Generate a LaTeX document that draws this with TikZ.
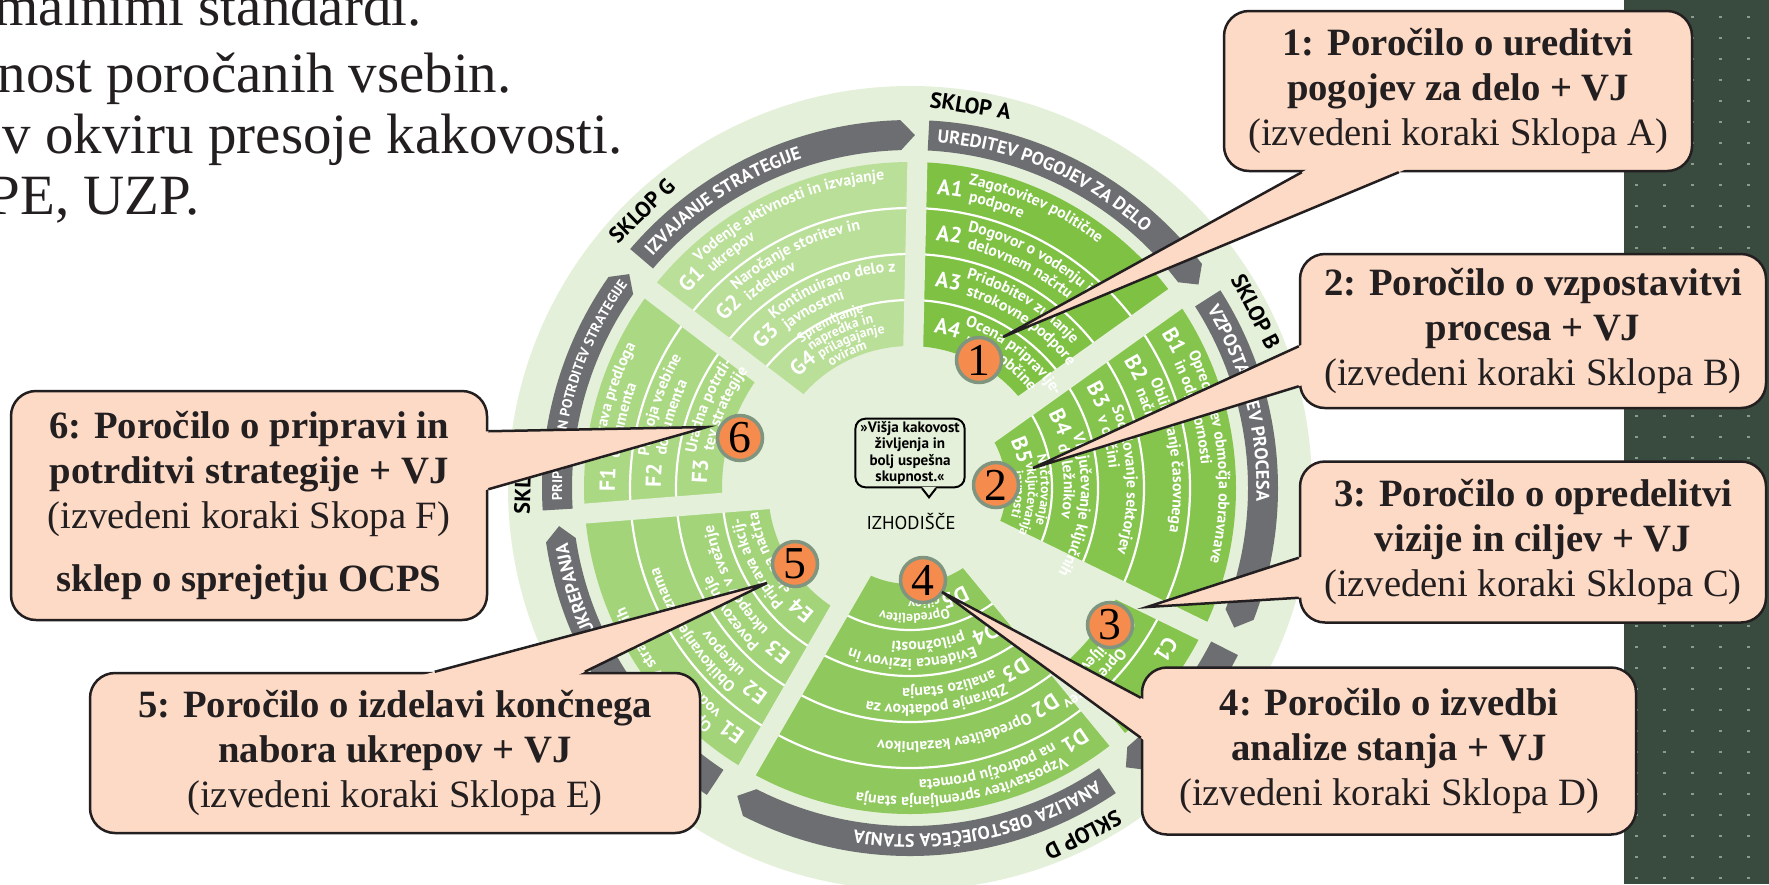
\documentclass[tikz,border=0pt]{standalone}
\usepackage{fontspec}
\setmainfont{Liberation Serif}
\setsansfont{PT Sans}
\usetikzlibrary{calc,decorations.text}

\definecolor{disc}{HTML}{E4F0D9}
\definecolor{secA}{HTML}{7EC143}
\definecolor{secB}{HTML}{85C54D}
\definecolor{secC}{HTML}{85C54D}
\definecolor{secD}{HTML}{8FC85C}
\definecolor{secE}{HTML}{A3D479}
\definecolor{secF}{HTML}{ABD883}
\definecolor{secG}{HTML}{BADF98}
\definecolor{bandgray}{HTML}{6D6E71}
\definecolor{peach}{HTML}{FDDAC6}
\definecolor{inkline}{HTML}{231F20}
\definecolor{dotorange}{HTML}{F58B4C}
\definecolor{dotring}{HTML}{7F957F}
\definecolor{panel}{HTML}{394A3E}
\definecolor{paneldot}{HTML}{8D9A90}

\newcommand{\lblfont}{\color{white}\sffamily\bfseries\fontsize{6.2}{7}\selectfont}
\newcommand{\rowfont}{\color{white}\sffamily\bfseries\fontsize{4.5}{5}\selectfont}
\newcommand{\rowfontS}{\color{white}\sffamily\bfseries\fontsize{3.9}{4.5}\selectfont}
\newcommand{\bandfont}{\color{white}\sffamily\bfseries\fontsize{5.2}{6}\selectfont}
\newcommand{\bandfontF}{\color{white}\sffamily\bfseries\fontsize{4}{5}\selectfont}

% text on a clockwise arc round the wheel centre
\newcommand{\arctext}[4]{%
  \path[decorate,decoration={text along path,text align=left,text={|#1|#4}}]
    (#2:#3) arc[start angle=#2,end angle=#2-100,radius=#3];}
% green wedge: colour, start angle, end angle, inner radius
\newcommand{\greensector}[4]{%
  \fill[#1] (#2:#4) arc[start angle=#2,end angle=#3,radius=#4]
    -- (#3:326) arc[start angle=#3,end angle=#2,radius=326] -- cycle;}
% grey arrow band: flat start, pointed end
\newcommand{\bandarrow}[2]{%
  \fill[band] (#1:338) arc[start angle=#1,end angle=#2,radius=338]
    -- ({#2-2.3}:353) -- (#2:368) arc[start angle=#2,end angle=#1,radius=368] -- cycle;}
\newcommand{\rowlabel}[3]{%
  \pgfmathsetmacro{\lrad}{#2+15}%
  \pgfmathsetmacro{\lang}{#1-20/\lrad*57.3}%
  \arctext{\lblfont}{\lang}{\lrad}{#3}}
\newcommand{\rowline}[4][52]{%
  \pgfmathsetmacro{\dang}{#2-#1/#3*57.3}%
  \arctext{\rowfont}{\dang}{#3}{#4}}
\newcommand{\rowlineS}[4][50]{%
  \pgfmathsetmacro{\dang}{#2-#1/#3*57.3}%
  \arctext{\rowfontS}{\dang}{#3}{#4}}
\newcommand{\calltail}[3]{%
  \fill[peach] ($(#2)!1.04!(#1)$) -- (#2) -- ($(#2)!1.04!(#3)$) -- cycle;
  \draw[tailline] (#1) -- (#2) -- (#3);}

\tikzset{
  band/.style={fill=bandgray},
  sepline/.style={draw=white,line width=0.22mm},
  gapstrip/.style={draw=disc,line width=2mm},
  sklop/.style={font=\sffamily\bfseries\fontsize{6.3}{7}\selectfont,text=black,inner sep=0pt},
  numdot/.style={circle,fill=dotorange,draw=dotring,line width=0.35mm,minimum size=4.5mm,inner sep=0pt,font=\fontsize{13}{13}\selectfont},
  quotebox/.style={draw=black,line width=0.2mm,fill=disc,rounded corners=1mm,align=center,inner xsep=0.5mm,inner ysep=0.3mm,minimum width=10.7mm,minimum height=6.8mm,font=\sffamily\bfseries\fontsize{4.3}{4.6}\selectfont},
  callout/.style={draw=inkline,line width=0.25mm,fill=peach,rounded corners=2.5mm,align=center,inner sep=0pt,text=inkline,font=\fontsize{11}{12.8}\selectfont},
  tailline/.style={draw=inkline,line width=0.25mm},
  headline/.style={font=\fontsize{16.2}{18}\selectfont,text=inkline,inner sep=0pt},
}

\begin{document}
\begin{tikzpicture}[x=0.1mm,y=0.1mm]
\useasboundingbox (0,0) rectangle (1769,884);
\clip (0,0) rectangle (1769,884);
\fill[white] (0,0) rectangle (1769,884);
%dark panel on the right
\fill[panel] (1624,0) rectangle (1769,884);
\foreach \x in {1636,1664,...,1748}
  \foreach \y in {6,27,...,884}
    \fill[paneldot] (\x-1.5,\y-0.8) rectangle ++(3,1.6);

%wheel
\begin{scope}[shift={(910,396)}]
\fill[disc] (0,0) circle[radius=402];
%sectors A..G
\greensector{secA}{88.7}{35.5}{142}
\greensector{secB}{35.5}{-26}{96}
\greensector{secC}{-26}{-50.5}{234}
\greensector{secD}{-50.5}{-120}{96}
\greensector{secE}{-120}{-175.5}{142}
\greensector{secF}{-175.5}{-217.3}{188}
\greensector{secG}{142.7}{88.7}{142}
%row lines
\foreach \r in {280,234,188} \draw[sepline] (88.7:\r) arc[start angle=88.7,end angle=35.5,radius=\r];
\foreach \r in {280,234,188,142} \draw[sepline] (35.5:\r) arc[start angle=35.5,end angle=-26,radius=\r];
\draw[sepline] (-26:280) arc[start angle=-26,end angle=-50.5,radius=280];
\foreach \r in {280,234,188,142} \draw[sepline] (-50.5:\r) arc[start angle=-50.5,end angle=-120,radius=\r];
\foreach \r in {280,234,188} \draw[sepline] (-120:\r) arc[start angle=-120,end angle=-175.5,radius=\r];
\foreach \r in {280,234} \draw[sepline] (-175.5:\r) arc[start angle=-175.5,end angle=-217.3,radius=\r];
\foreach \r in {280,234,188} \draw[sepline] (142.7:\r) arc[start angle=142.7,end angle=88.7,radius=\r];
%gaps between sectors
\foreach \g in {88.7,-26,-50.5,-120,-175.5,142.7} \draw[gapstrip] (0,0) -- (\g:334);
\draw[gapstrip,line width=2.4mm] (0,0) -- (35.5:334);

%A
\rowlabel{88.7}{280}{A1} \rowline{88.7}{309}{Zagotovitev politične} \rowline{88.7}{292}{podpore}
\rowlabel{88.7}{234}{A2} \rowline{88.7}{263}{Dogovor o vodenju in} \rowline{88.7}{246}{delovnem načrtu}
\rowlabel{88.7}{188}{A3} \rowline{88.7}{217}{Pridobitev zunanje} \rowline{88.7}{200}{strokovne podpore}
\rowlabel{88.7}{142}{A4} \rowline{88.7}{171}{Ocena pripravlje-} \rowline{88.7}{154}{nosti občine}
%B
\rowlabel{35.5}{280}{B1} \rowline{35.5}{309}{Opredelitev območja obravnave} \rowline{35.5}{292}{in odgovornosti}
\rowlabel{35.5}{234}{B2} \rowline{35.5}{263}{Oblikovanje časovnega} \rowline{35.5}{246}{načrta}
\rowlabel{35.5}{188}{B3} \rowline{35.5}{217}{Sodelovanje sektorjev} \rowline{35.5}{200}{v občini}
\rowlabel{35.5}{142}{B4} \rowline{35.5}{171}{Vključevanje ključnih} \rowline{35.5}{154}{deležnikov}
\rowlabel{35.5}{96}{B5} \rowlineS[48]{35.5}{131}{Načrtovanje} \rowlineS[48]{35.5}{118}{vključevanja} \rowlineS[48]{35.5}{105}{javnosti}
%C
\rowlabel{-26}{280}{C1}
\rowlabel{-26}{234}{C2} \rowline{-26}{263}{Opredelitev} \rowline{-26}{246}{ciljev}
%D
\rowlabel{-50.5}{280}{D1} \rowline{-50.5}{309}{Vzpostavitev spremljanja stanja} \rowline{-50.5}{292}{na področju prometa}
\rowlabel{-50.5}{234}{D2} \rowline{-50.5}{254}{Opredelitev kazalnikov}
\rowlabel{-50.5}{188}{D3} \rowline{-50.5}{217}{Zbiranje podatkov za} \rowline{-50.5}{200}{analizo stanja}
\rowlabel{-50.5}{142}{D4} \rowline{-50.5}{171}{Evidenca izzivov in} \rowline{-50.5}{154}{priložnosti}
\rowlabel{-50.5}{96}{D5} \rowlineS[48]{-50.5}{126}{Opredelitev} \rowlineS[48]{-50.5}{112}{ciljev}
%E
\rowlabel{-120}{280}{E1} \rowline{-120}{309}{Opredelitev strateških} \rowline{-120}{292}{vodil}
\rowlabel{-120}{234}{E2} \rowline{-120}{263}{Oblikovanje seznama} \rowline{-120}{246}{ukrepov}
\rowlabel{-120}{188}{E3} \rowline{-120}{217}{Povezovanje} \rowline{-120}{200}{ukrepov v svežnje}
\rowlabel{-120}{142}{E4} \rowline{-120}{171}{Priprava akcij-} \rowline{-120}{154}{skega načrta}
%F
\rowlabel{-175.5}{280}{F1} \rowline{-175.5}{309}{Priprava predloga} \rowline{-175.5}{292}{dokumenta}
\rowlabel{-175.5}{234}{F2} \rowline{-175.5}{263}{Presoja vsebine} \rowline{-175.5}{246}{dokumenta}
\rowlabel{-175.5}{188}{F3} \rowline{-175.5}{217}{Uradna potrdi-} \rowline{-175.5}{200}{tev strategije}
%G
\rowlabel{142.7}{280}{G1} \rowline{142.7}{309}{Vodenje aktivnosti in izvajanje} \rowline{142.7}{292}{ukrepov}
\rowlabel{142.7}{234}{G2} \rowline{142.7}{263}{Naročanje storitev in} \rowline{142.7}{246}{izdelkov}
\rowlabel{142.7}{188}{G3} \rowline{142.7}{217}{Kontinuirano delo z} \rowline{142.7}{200}{javnostmi}
\rowlabel{142.7}{142}{G4} \rowlineS{142.7}{181}{Spremljanje} \rowlineS{142.7}{169}{napredka in} \rowlineS{142.7}{157}{prilagajanje} \rowlineS{142.7}{145}{oviram}

%grey bands
\bandarrow{139.5}{91.5}
\bandarrow{87}{37.5}
\bandarrow{32.5}{-21}
\bandarrow{-27}{-50}
\bandarrow{-56}{-117}
\bandarrow{-123.5}{-171.5}
\bandarrow{-176.5}{-215}
\arctext{\bandfont}{85.5}{346.5}{UREDITEV POGOJEV ZA DELO}
\arctext{\bandfont}{31}{346.5}{VZPOSTAVITEV PROCESA}
\arctext{\bandfont}{-57.5}{346.5}{ANALIZA OBSTOJEČEGA STANJA}
\arctext{\bandfontF}{-178}{348}{PRIPRAVA IN POTRDITEV STRATEGIJE}
\arctext{\bandfont}{138}{346.5}{IZVAJANJE STRATEGIJE}
\path[decorate,decoration={text along path,text align=right,text={|\bandfont|UKREPANJA}}]
  (-123.5:346.5) arc[start angle=-123.5,end angle=-171,radius=346.5];

%sklop labels
\node[sklop,rotate=-9] (skA) at (81:387) {SKLOP A};
\node[sklop,rotate=-63] (skB) at (27:388) {SKLOP B};
\node[sklop,rotate=-153.5] (skD) at (-63.5:388) {SKLOP D};
\node[sklop,rotate=88] (skF) at (178:387) {SKLOP F};
\node[sklop,rotate=44] (skG) at (134:386) {SKLOP G};
\end{scope}

%centre
\node[quotebox] (quote) at (910,431) {»Višja kakovost\\življenja in\\bolj uspešna\\skupnost.«};
\fill[disc] ($(quote.south)+(12,1.5)$) -- ($(quote.south)+(19,-9)$) -- ($(quote.south)+(26,1.5)$) -- cycle;
\draw[line width=0.2mm] ($(quote.south)+(12,0)$) -- ($(quote.south)+(19,-9)$) -- ($(quote.south)+(26,0)$);
\node[font=\sffamily\fontsize{5.3}{6}\selectfont] (izhod) at (911,363) {IZHODIŠČE};

%numbered dots
\node[numdot] (n1) at (979,524) {1};
\node[numdot] (n2) at (996,399) {2};
\node[numdot] (n3) at (1110,259) {3};
\node[numdot] (n4) at (923,304) {4};
\node[numdot] (n5) at (795,320) {5};
\node[numdot] (n6) at (740,446) {6};

%callouts
\node[callout,minimum width=46.8mm,minimum height=16mm] (c1) at (1458,793)
  {\textbf{1: Poročilo o ureditvi}\\\textbf{pogojev za delo + VJ}\\(izvedeni koraki Sklopa A)};
\coordinate (t1) at (1003,547);
\coordinate (c1a) at ($(c1.south west)+(79,0)$);
\coordinate (c1b) at ($(c1.south west)+(176,0)$);
\calltail{c1a}{t1}{c1b}

\node[callout,minimum width=46.6mm,minimum height=15.4mm] (c2) at (1533,553)
  {\textbf{2: Poročilo o vzpostavitvi}\\\textbf{procesa + VJ}\\(izvedeni koraki Sklopa B)};
\coordinate (t2) at (1033,416);
\coordinate (c2a) at ($(c2.south west)+(0,63)$);
\coordinate (c2b) at ($(c2.south west)+(0,23)$);
\calltail{c2a}{t2}{c2b}

\node[callout,minimum width=46.6mm,minimum height=16.1mm] (c3) at (1533,342)
  {\textbf{3: Poročilo o opredelitvi}\\\textbf{vizije in ciljev + VJ}\\(izvedeni koraki Sklopa C)};
\coordinate (t3) at (1147,277);
\coordinate (c3a) at ($(c3.south west)+(0,66)$);
\coordinate (c3b) at ($(c3.south west)+(0,26)$);
\calltail{c3a}{t3}{c3b}

\node[callout,minimum width=49.4mm,minimum height=16.7mm] (c4) at (1389,133)
  {\textbf{4: Poročilo o izvedbi}\\\textbf{analize stanja + VJ}\\(izvedeni koraki Sklopa D)};
\coordinate (t4) at (942,292);
\coordinate (c4a) at ($(c4.south west)+(0,138)$);
\coordinate (c4b) at ($(c4.south west)+(0,98)$);
\calltail{c4a}{t4}{c4b}

\node[callout,minimum width=61mm,minimum height=16mm] (c5) at (395,131)
  {\textbf{5: Poročilo o izdelavi končnega}\\\textbf{nabora ukrepov + VJ}\\(izvedeni koraki Sklopa E)};
\coordinate (t5) at (767,301);
\coordinate (c5a) at ($(c5.north west)+(346,0)$);
\coordinate (c5b) at ($(c5.north west)+(496,0)$);
\calltail{c5a}{t5}{c5b}

\node[callout,minimum width=47.6mm,minimum height=22.9mm] (c6) at (249,378.5)
  {\textbf{6: Poročilo o pripravi in}\\\textbf{potrditvi strategije + VJ}\\(izvedeni koraki Skopa F)\\[5pt]\textbf{sklep o sprejetju OCPS}};
\coordinate (t6) at (707,457);
\coordinate (c6a) at ($(c6.south east)+(0,190)$);
\coordinate (c6b) at ($(c6.south east)+(0,132)$);
\calltail{c6a}{t6}{c6b}

%text cut off at top left
\node[headline,anchor=base west] (h1) at (-6,859) {malnimi standardi.};
\node[headline,anchor=base west] (h2) at (-3,792) {nost poročanih vsebin.};
\node[headline,anchor=base west] (h3) at (2,731) {v okviru presoje kakovosti.};
\node[headline,anchor=base east] (h4) at (200,670) {PE, UZP.};
\end{tikzpicture}
\end{document}
